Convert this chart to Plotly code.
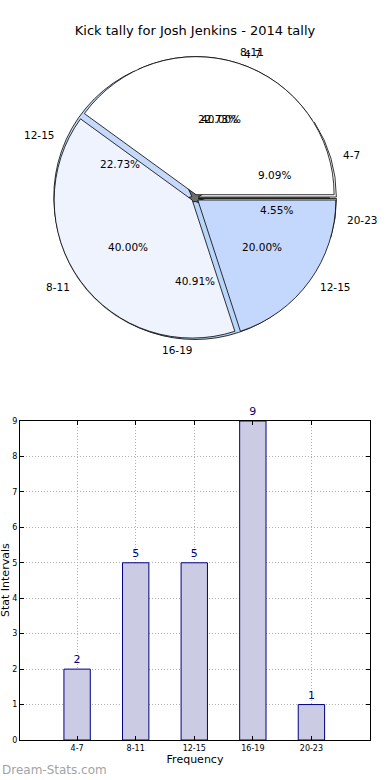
import math
import plotly.graph_objects as go

# ---- data ----
title_text = "Kick tally for Josh Jenkins - 2014 tally"
intervals = ["4-7", "8-11", "12-15", "16-19", "20-23"]
counts = [2, 5, 5, 9, 1]
pie_a_colors = ["#ffffff", "#eef3fe", "#c6d9fb", "#b9d5f9", "#d3e89a"]
pie_b_labels = ["4-7", "8-11", "12-15"]
pie_b_values = [2, 2, 1]
pie_b_colors = ["#ffffff", "#eef3fe", "#c4d8fd"]
y_ticks = list(range(0, 10))

W, H = 390, 780
FONT = "DejaVu Sans"

# pie geometry (pixels)
cx, cy = 195, 198
pull = 0.025
box = 283.0
r = box / (2 + 2 * pull)


def dom_x(c, s):
    return [(c - s / 2) / W, (c + s / 2) / W]


def dom_y(c, s):
    return [1 - (c + s / 2) / H, 1 - (c - s / 2) / H]


def start_rotation(values):
    # plotly's counterclockwise pies end the first slice at `rotation`;
    # shift so the first slice starts at 3 o'clock like the reference
    return 90 - 360.0 * values[0] / sum(values)


fig = go.Figure()

# shadow
fig.add_trace(go.Pie(
    values=[sum(counts)], labels=["shadow"], sort=False,
    domain=dict(x=dom_x(cx - 3, 2 * r), y=dom_y(cy + 3, 2 * r)),
    marker=dict(colors=["#6e6e6e"], line=dict(width=0)),
    textinfo="none", hoverinfo="skip", showlegend=False,
))

# pie A (5 intervals)
fig.add_trace(go.Pie(
    values=counts, labels=intervals, sort=False,
    direction="counterclockwise", rotation=start_rotation(counts),
    pull=[pull] * len(counts),
    domain=dict(x=dom_x(cx, box), y=dom_y(cy, box)),
    marker=dict(colors=pie_a_colors, line=dict(color="black", width=0.8)),
    textinfo="none", hoverinfo="skip", showlegend=False,
))

# pie B (3 intervals), drawn on top
fig.add_trace(go.Pie(
    values=pie_b_values, labels=pie_b_labels, sort=False,
    direction="counterclockwise", rotation=start_rotation(pie_b_values),
    pull=[pull] * len(pie_b_values),
    domain=dict(x=dom_x(cx, box), y=dom_y(cy, box)),
    marker=dict(colors=pie_b_colors, line=dict(color="black", width=0.8)),
    textinfo="none", hoverinfo="skip", showlegend=False,
))

annotations = []


def pie_texts(labels, values):
    total = float(sum(values))
    start = 0.0
    for lab, v in zip(labels, values):
        frac = v / total
        mid = math.radians((start + frac * 180.0))
        start += frac * 360.0
        # label at 1.1 r
        lx = cx + 1.1 * r * math.cos(mid)
        ly = cy - 1.1 * r * math.sin(mid)
        annotations.append(dict(
            x=lx / W, y=1 - ly / H, xref="paper", yref="paper",
            text=lab, showarrow=False,
            xanchor="left" if math.cos(mid) > 0 else "right", yanchor="middle",
            font=dict(family=FONT, size=10.5, color="black"),
        ))
        px = cx + 0.6 * r * math.cos(mid)
        py = cy - 0.6 * r * math.sin(mid)
        annotations.append(dict(
            x=px / W, y=1 - py / H, xref="paper", yref="paper",
            text="%.2f%%" % (frac * 100), showarrow=False,
            xanchor="center", yanchor="middle",
            font=dict(family=FONT, size=10.5, color="black"),
        ))


pie_texts(intervals, counts)
pie_texts(pie_b_labels, pie_b_values)

# bar chart
fig.add_trace(go.Bar(
    x=intervals, y=counts, width=0.45,
    marker=dict(color="#cbcbe3", line=dict(color="#000080", width=1)),
    text=[str(c) for c in counts], textposition="outside",
    textfont=dict(family=FONT, size=11, color="#000080"),
    cliponaxis=False, hoverinfo="skip", showlegend=False,
))

annotations.append(dict(
    x=0, y=1 - 770 / H, xref="paper", yref="paper", text="Dream-Stats.com",
    showarrow=False, xanchor="left", yanchor="middle",
    font=dict(family=FONT, size=12, color="#a3a3a3"),
))
annotations.append(dict(
    x=5 / W, y=1 - 580 / H, xref="paper", yref="paper", text="Stat Intervals",
    showarrow=False, textangle=-90, xanchor="center", yanchor="middle",
    font=dict(family=FONT, size=11, color="black"),
))

grid = dict(showgrid=True, gridcolor="#b0b0b0", griddash="1px,2px", gridwidth=1)

fig.update_layout(
    width=W, height=H, margin=dict(l=0, r=0, t=0, b=0, autoexpand=False),
    paper_bgcolor="white", plot_bgcolor="white",
    font=dict(family=FONT, color="black"),
    title=dict(text=title_text, x=0.5, xanchor="center", y=1 - 30 / H, yanchor="middle",
               font=dict(family=FONT, size=13, color="black")),
    xaxis=dict(
        domain=[20 / W, 370 / W], type="category", range=[-0.975, 5.0],
        automargin=False,
        showline=True, linecolor="black", linewidth=1, mirror="allticks",
        ticks="inside", ticklen=4, tickcolor="black",
        tickfont=dict(family=FONT, size=8, color="black"),
        title=dict(text="Frequency", font=dict(family=FONT, size=11, color="black"), standoff=2),
        zeroline=False, fixedrange=True, **grid,
    ),
    yaxis=dict(
        domain=[1 - 740 / H, 1 - 421 / H], range=[0, 9],
        automargin=False, tickvals=y_ticks,
        showline=True, linecolor="black", linewidth=1, mirror="allticks",
        ticks="inside", ticklen=4, tickcolor="black",
        tickfont=dict(family=FONT, size=8, color="black"),
        zeroline=False, fixedrange=True, **grid,
    ),
    annotations=annotations,
)

fig.write_html(
    "out.html",
    config={"displayModeBar": False},
    post_script="document.body.style.margin='0';document.body.style.padding='0';",
)
